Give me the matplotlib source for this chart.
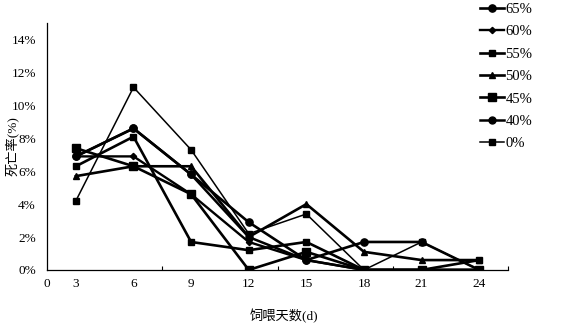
import matplotlib
matplotlib.use("Agg")
import matplotlib.pyplot as plt

plt.rcParams["font.family"] = ["Liberation Serif", "Noto Sans CJK SC"]

days = [3, 6, 9, 12, 15, 18, 21, 24]
groups = ["65%", "60%", "55%", "50%", "45%", "40%", "0%"]

# mortality (%) per feeding day
m65 = [6.9, 8.6, 5.8, 2.9, 0.6, 1.7, 1.7, 0.0]
m60 = [6.9, 6.9, 4.6, 1.7, 0.6, 0.0, 0.0, 0.0]
m55 = [6.3, 8.1, 1.7, 1.2, 1.7, 0.0, 0.0, 0.6]
m50 = [5.7, 6.3, 6.3, 2.0, 4.0, 1.1, 0.6, 0.6]
m45 = [7.4, 6.3, 4.6, 0.0, 1.1, 0.0, 0.0, 0.0]
m40 = [6.9, 8.6, 5.8, 2.0, 0.6, 0.0, 0.0, 0.0]
m0 = [4.2, 11.1, 7.3, 2.2, 3.4, 0.0, 1.7, 0.0]
series = [m65, m60, m55, m50, m45, m40, m0]

markers = ["o", "D", "s", "^", "s", "o", "s"]
msizes = [5.2, 3.2, 4.6, 5.0, 5.4, 5.0, 4.8]
lwidths = [1.9, 1.7, 1.9, 1.9, 1.9, 1.8, 1.1]

fig = plt.figure(figsize=(5.67, 3.30), dpi=100)
ax = fig.add_axes([0.083, 0.182, 0.813, 0.748])

pos = [i + 0.5 for i in range(len(days))]
for vals, name, mk, ms, lw in zip(series, groups, markers, msizes, lwidths):
    ax.plot(pos, vals, color="black", marker=mk, markersize=ms, linewidth=lw,
            label=name)

ax.set_xlim(0, 8)
ax.set_ylim(0, 15)
ax.set_yticks(range(0, 15, 2))
ax.set_yticklabels([f"{v}%" for v in range(0, 15, 2)])
ax.set_xticks([0] + pos)
ax.set_xticklabels(["0"] + [str(d) for d in days])
ax.set_xticks([0, 2, 4, 6, 8], minor=True)
ax.tick_params(axis="y", which="major", length=0, labelsize=9.5, pad=8)
ax.tick_params(axis="x", which="major", length=0, labelsize=9.5, pad=6)
ax.tick_params(axis="x", which="minor", direction="in", length=3, width=0.8)
ax.spines["top"].set_visible(False)
ax.spines["right"].set_visible(False)
for s in ("left", "bottom"):
    ax.spines[s].set_linewidth(0.9)

ax.set_ylabel("死亡率(%)", fontsize=9.5)
ax.yaxis.set_label_coords(-0.062, 0.5)
ax.set_xlabel("饲喂天数(d)", fontsize=9.5)
ax.xaxis.set_label_coords(0.515, -0.16)

fig.legend(loc="upper left", bbox_to_anchor=(0.832, 1.018), frameon=False,
           fontsize=10.5, handlelength=1.6, handletextpad=0.1, labelspacing=0.63,
           borderaxespad=0.2)

fig.savefig("out.png", dpi=100)
